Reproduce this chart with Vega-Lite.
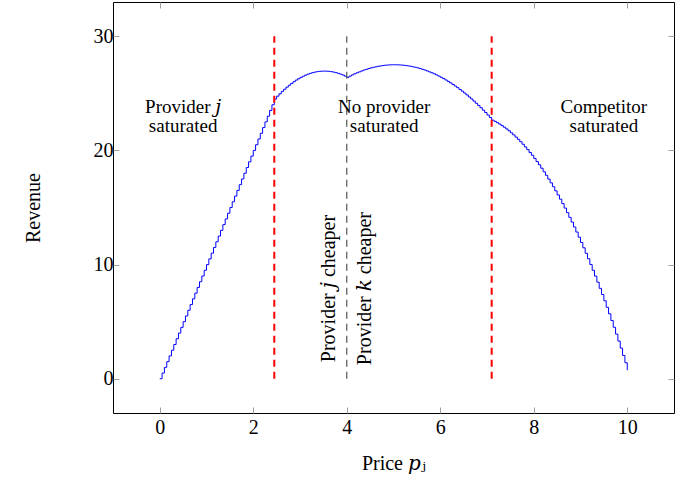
{
"$schema":"https://vega.github.io/schema/vega-lite/v6.json",
"width":561,"height":411,
"autosize":{"type":"none"},
"padding":{"left":113,"top":2,"right":18,"bottom":75},
"config":{"view":{"stroke":"black","strokeWidth":1},"font":"Liberation Serif",
"axis":{"grid":false,"domain":false,"tickColor":"#a0a0a0","tickSize":-6,"tickWidth":1,"labelFont":"Liberation Serif","labelFontSize":20,"labelColor":"black","titleFont":"Liberation Serif, DejaVu Serif","titleFontSize":20,"titleFontWeight":"normal","titleColor":"black"}},
"datasets":{
"curve":[
{"p":0,"r":0},{"p":0.05,"r":0.5},{"p":0.1,"r":1},{"p":0.15,"r":1.5},{"p":0.2,"r":2},{"p":0.25,"r":2.5},{"p":0.3,"r":3},{"p":0.35,"r":3.5},{"p":0.4,"r":4},{"p":0.45,"r":4.5},
{"p":0.5,"r":5},{"p":0.55,"r":5.5},{"p":0.6,"r":6},{"p":0.65,"r":6.5},{"p":0.7,"r":7},{"p":0.75,"r":7.5},{"p":0.8,"r":8},{"p":0.85,"r":8.5},{"p":0.9,"r":9},{"p":0.95,"r":9.5},
{"p":1,"r":10},{"p":1.05,"r":10.5},{"p":1.1,"r":11},{"p":1.15,"r":11.5},{"p":1.2,"r":12},{"p":1.25,"r":12.5},{"p":1.3,"r":13},{"p":1.35,"r":13.5},{"p":1.4,"r":14},{"p":1.45,"r":14.5},
{"p":1.5,"r":15},{"p":1.55,"r":15.5},{"p":1.6,"r":16},{"p":1.65,"r":16.5},{"p":1.7,"r":17},{"p":1.75,"r":17.5},{"p":1.8,"r":18},{"p":1.85,"r":18.5},{"p":1.9,"r":19},{"p":1.95,"r":19.5},
{"p":2,"r":20},{"p":2.05,"r":20.5},{"p":2.1,"r":21},{"p":2.15,"r":21.5},{"p":2.2,"r":22},{"p":2.25,"r":22.5},{"p":2.3,"r":23},{"p":2.35,"r":23.5},{"p":2.4,"r":24},{"p":2.45,"r":24.5},
{"p":2.5,"r":24.75},{"p":2.55,"r":24.96},{"p":2.6,"r":25.17},{"p":2.65,"r":25.36},{"p":2.7,"r":25.54},{"p":2.75,"r":25.71},{"p":2.8,"r":25.87},{"p":2.85,"r":26.02},{"p":2.9,"r":26.16},{"p":2.95,"r":26.28},
{"p":3,"r":26.4},{"p":3.05,"r":26.5},{"p":3.1,"r":26.6},{"p":3.15,"r":26.68},{"p":3.2,"r":26.75},{"p":3.25,"r":26.81},{"p":3.3,"r":26.86},{"p":3.35,"r":26.9},{"p":3.4,"r":26.93},{"p":3.45,"r":26.94},
{"p":3.5,"r":26.95},{"p":3.55,"r":26.94},{"p":3.6,"r":26.93},{"p":3.65,"r":26.9},{"p":3.7,"r":26.86},{"p":3.75,"r":26.81},{"p":3.8,"r":26.75},{"p":3.85,"r":26.68},{"p":3.9,"r":26.6},{"p":3.95,"r":26.5},
{"p":4,"r":26.4},{"p":4.05,"r":26.51},{"p":4.1,"r":26.61},{"p":4.15,"r":26.71},{"p":4.2,"r":26.8},{"p":4.25,"r":26.88},{"p":4.3,"r":26.96},{"p":4.35,"r":27.04},{"p":4.4,"r":27.1},{"p":4.45,"r":27.17},
{"p":4.5,"r":27.23},{"p":4.55,"r":27.28},{"p":4.6,"r":27.32},{"p":4.65,"r":27.37},{"p":4.7,"r":27.4},{"p":4.75,"r":27.43},{"p":4.8,"r":27.46},{"p":4.85,"r":27.48},{"p":4.9,"r":27.49},{"p":4.95,"r":27.5},
{"p":5,"r":27.5},{"p":5.05,"r":27.5},{"p":5.1,"r":27.49},{"p":5.15,"r":27.48},{"p":5.2,"r":27.46},{"p":5.25,"r":27.43},{"p":5.3,"r":27.4},{"p":5.35,"r":27.37},{"p":5.4,"r":27.32},{"p":5.45,"r":27.28},
{"p":5.5,"r":27.23},{"p":5.55,"r":27.17},{"p":5.6,"r":27.1},{"p":5.65,"r":27.04},{"p":5.7,"r":26.96},{"p":5.75,"r":26.88},{"p":5.8,"r":26.8},{"p":5.85,"r":26.71},{"p":5.9,"r":26.61},{"p":5.95,"r":26.51},
{"p":6,"r":26.4},{"p":6.05,"r":26.29},{"p":6.1,"r":26.17},{"p":6.15,"r":26.05},{"p":6.2,"r":25.92},{"p":6.25,"r":25.78},{"p":6.3,"r":25.64},{"p":6.35,"r":25.5},{"p":6.4,"r":25.34},{"p":6.45,"r":25.19},
{"p":6.5,"r":25.03},{"p":6.55,"r":24.86},{"p":6.6,"r":24.68},{"p":6.65,"r":24.51},{"p":6.7,"r":24.32},{"p":6.75,"r":24.13},{"p":6.8,"r":23.94},{"p":6.85,"r":23.74},{"p":6.9,"r":23.53},{"p":6.95,"r":23.32},
{"p":7,"r":23.1},{"p":7.05,"r":22.88},{"p":7.1,"r":22.65},{"p":7.15,"r":22.55},{"p":7.2,"r":22.43},{"p":7.25,"r":22.31},{"p":7.3,"r":22.17},{"p":7.35,"r":22.03},{"p":7.4,"r":21.88},{"p":7.45,"r":21.72},
{"p":7.5,"r":21.54},{"p":7.55,"r":21.36},{"p":7.6,"r":21.17},{"p":7.65,"r":20.97},{"p":7.7,"r":20.76},{"p":7.75,"r":20.54},{"p":7.8,"r":20.31},{"p":7.85,"r":20.07},{"p":7.9,"r":19.82},{"p":7.95,"r":19.57},
{"p":8,"r":19.3},{"p":8.05,"r":19.02},{"p":8.1,"r":18.74},{"p":8.15,"r":18.44},{"p":8.2,"r":18.13},{"p":8.25,"r":17.82},{"p":8.3,"r":17.49},{"p":8.35,"r":17.16},{"p":8.4,"r":16.82},{"p":8.45,"r":16.46},
{"p":8.5,"r":16.1},{"p":8.55,"r":15.73},{"p":8.6,"r":15.34},{"p":8.65,"r":14.95},{"p":8.7,"r":14.55},{"p":8.75,"r":14.14},{"p":8.8,"r":13.72},{"p":8.85,"r":13.29},{"p":8.9,"r":12.85},{"p":8.95,"r":12.4},
{"p":9,"r":11.94},{"p":9.05,"r":11.47},{"p":9.1,"r":10.99},{"p":9.15,"r":10.51},{"p":9.2,"r":10.01},{"p":9.25,"r":9.5},{"p":9.3,"r":8.99},{"p":9.35,"r":8.46},{"p":9.4,"r":7.92},{"p":9.45,"r":7.38},
{"p":9.5,"r":6.83},{"p":9.55,"r":6.26},{"p":9.6,"r":5.69},{"p":9.65,"r":5.1},{"p":9.7,"r":4.51},{"p":9.75,"r":3.91},{"p":9.8,"r":3.3},{"p":9.85,"r":2.68},{"p":9.9,"r":2.04},{"p":9.95,"r":1.4},
{"p":10,"r":0.75}
],
"red":[{"x":2.45,"y1":0,"y2":30},{"x":7.1,"y1":0,"y2":30}],
"gray":[{"x":4,"y1":0,"y2":30}],
"regions":[
{"x":0.5,"y":23.3,"label":["Provider 𝑗","saturated"]},
{"x":4.8,"y":23.3,"label":["No provider","saturated"]},
{"x":9.5,"y":23.3,"label":["Competitor","saturated"]}
],
"cheaper":[
{"x":3.62,"y":7.9,"label":"Provider 𝑗 cheaper"},
{"x":4.38,"y":7.9,"label":"Provider 𝑘 cheaper"}
]
},
"resolve":{"axis":{"x":"independent","y":"independent"}},
"layer":[
{"data":{"name":"curve"},
"mark":{"type":"line","interpolate":"step-after","color":"#0000ff","strokeWidth":1},
"encoding":{
"x":{"field":"p","type":"quantitative","scale":{"domain":[-1,11],"nice":false,"zero":false},
"axis":{"orient":"bottom","values":[0,2,4,6,8,10],"title":"Price 𝑝ⱼ","labelPadding":10,"titlePadding":16}},
"y":{"field":"r","type":"quantitative","scale":{"domain":[-3,33],"nice":false,"zero":false},
"axis":{"orient":"left","values":[0,10,20,30],"title":"Revenue","labelPadding":6,"titlePadding":50}}}},
{"data":{"name":"red"},
"mark":{"type":"rule","color":"#ff0000","strokeWidth":2,"strokeDash":[7,5]},
"encoding":{
"x":{"field":"x","type":"quantitative","scale":{"domain":[-1,11],"nice":false,"zero":false},
"axis":{"orient":"top","values":[0,2,4,6,8,10],"labels":false,"title":null}},
"y":{"field":"y1","type":"quantitative","scale":{"domain":[-3,33],"nice":false,"zero":false},
"axis":{"orient":"right","values":[0,10,20,30],"labels":false,"title":null}},
"y2":{"field":"y2"}}},
{"data":{"name":"gray"},
"mark":{"type":"rule","color":"#555555","strokeWidth":1.2,"strokeDash":[7,5]},
"encoding":{
"x":{"field":"x","type":"quantitative","scale":{"domain":[-1,11],"nice":false,"zero":false},"axis":null},
"y":{"field":"y1","type":"quantitative","scale":{"domain":[-3,33],"nice":false,"zero":false},"axis":null},
"y2":{"field":"y2"}}},
{"data":{"name":"regions"},
"mark":{"type":"text","font":"Liberation Serif, DejaVu Serif","fontSize":19,"lineHeight":19,"align":"center","baseline":"alphabetic","color":"black"},
"encoding":{
"x":{"field":"x","type":"quantitative","scale":{"domain":[-1,11],"nice":false,"zero":false},"axis":null},
"y":{"field":"y","type":"quantitative","scale":{"domain":[-3,33],"nice":false,"zero":false},"axis":null},
"text":{"field":"label"}}},
{"data":{"name":"cheaper"},
"mark":{"type":"text","font":"Liberation Serif, DejaVu Serif","fontSize":20,"angle":270,"align":"center","baseline":"middle","color":"black"},
"encoding":{
"x":{"field":"x","type":"quantitative","scale":{"domain":[-1,11],"nice":false,"zero":false},"axis":null},
"y":{"field":"y","type":"quantitative","scale":{"domain":[-3,33],"nice":false,"zero":false},"axis":null},
"text":{"field":"label"}}}
]
}
